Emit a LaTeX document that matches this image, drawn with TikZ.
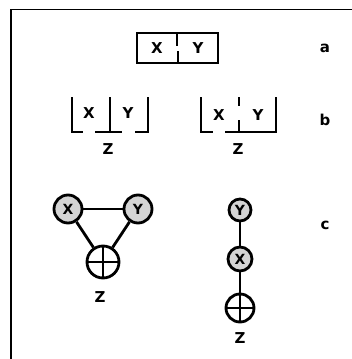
\documentclass[tikz,border=0pt]{standalone}
\usepackage{fontspec}
\setmainfont{DejaVu Sans}

\begin{document}
\begin{tikzpicture}[x=1pt, y=-1pt, line width=2.8pt,
    lbl/.style = {font=\fontsize{15}{17}\selectfont\bfseries, inner sep=0pt},
    var/.style = {draw, circle, fill=black!17, inner sep=0pt, font=\fontsize{14}{16}\selectfont\bfseries},
    xor/.style = {draw, circle, fill=white, inner sep=0pt,
        path picture={\draw[line width=1.8pt] (path picture bounding box.north) -- (path picture bounding box.south)
            (path picture bounding box.west) -- (path picture bounding box.east);}}]
    \useasboundingbox (0,0) rectangle (352,359);
    \fill[white] (0,0) rectangle (352,359);
    \draw[line width=1.4pt] (11,359) -- (11,9.5) -- (352,9.5);

    % a
    \draw (137,33) rectangle (218,63);
    \draw (177,33) -- (177,46);
    \draw (178,51) -- (178,63);
    \node[lbl] (ax) at (157,48) {X};
    \node[lbl] (ay) at (198,48) {Y};
    \node[lbl] (la) at (325,48) {a};

    % b
    \draw (72,97) -- (72,132) -- (83,132);
    \draw (95,132) -- (122,132);
    \draw (110,97) -- (110,132);
    \draw (135,132) -- (148,132) -- (148,97);
    \node[lbl] (bx1) at (89,113) {X};
    \node[lbl] (by1) at (128,113) {Y};
    \node[lbl] (bz1) at (108,149) {Z};

    \draw (201,97) -- (201,132) -- (213,132);
    \draw (225,132) -- (276,132) -- (276,97);
    \draw (239,97) -- (239,106);
    \draw (239,120) -- (239,132);
    \node[lbl] (bx2) at (219,115) {X};
    \node[lbl] (by2) at (258,115) {Y};
    \node[lbl] (bz2) at (238,149) {Z};
    \node[lbl] (lb) at (325,120) {b};

    % c
    \node[var, minimum size=28pt] (cx1) at (68,209) {X};
    \node[var, minimum size=28pt] (cy1) at (138,209) {Y};
    \node[xor, minimum size=32pt] (cp1) at (103,262) {};
    \node[lbl] (cz1) at (100,297) {Z};
    \draw (cx1) -- (cy1);
    \draw (cx1) -- (cp1);
    \draw (cy1) -- (cp1);

    \node[var, minimum size=22pt] (cy2) at (240,210) {Y};
    \node[var, minimum size=24pt] (cx2) at (240,259) {X};
    \node[xor, minimum size=28pt] (cp2) at (240,308) {};
    \node[lbl] (cz2) at (240,338) {Z};
    \draw (cy2) -- (cx2);
    \draw (cx2) -- (cp2);
    \node[lbl] (lc) at (325,225) {c};
\end{tikzpicture}
\end{document}
